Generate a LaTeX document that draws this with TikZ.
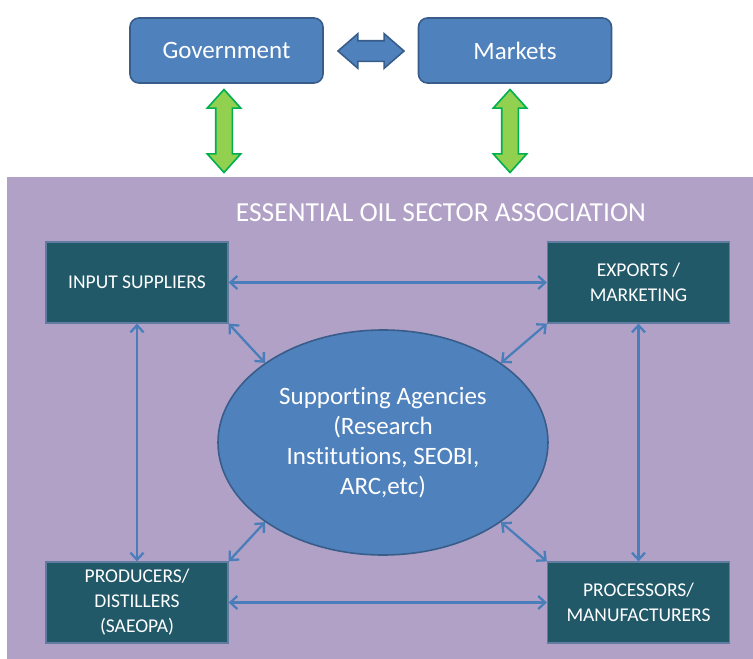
\documentclass[tikz,border=0pt]{standalone}
\usepackage{fontspec}
\setmainfont{Carlito}[Ligatures=NoCommon]
\usepackage{tikz}
\usetikzlibrary{positioning,arrows.meta,shapes.geometric,shapes.arrows}

\definecolor{officeblue}{HTML}{4F81BD}
\definecolor{edgeblue}{HTML}{385D8A}
\definecolor{linkblue}{HTML}{4A7EBB}
\definecolor{darkteal}{HTML}{215968}
\definecolor{lavender}{HTML}{B2A1C7}
\definecolor{lightgreen}{HTML}{92D050}
\definecolor{darkgreen}{HTML}{00B050}

\begin{document}
\begin{tikzpicture}[x=1pt,y=-1pt,
  topbox/.style={draw=edgeblue,line width=1.6pt,fill=officeblue,rounded corners=9pt,
    minimum width=193pt,minimum height=65pt,text=white,font=\fontsize{25}{30}\selectfont},
  unitbox/.style={draw=edgeblue!80,line width=1.2pt,fill=darkteal,minimum width=182pt,
    minimum height=81pt,text=white,align=center,font=\fontsize{19.5}{25}\selectfont},
  link/.style={linkblue,line width=2.3pt,{Straight Barb[length=7pt,width=13pt]}-{Straight Barb[length=7pt,width=13pt]}},
  greenarrow/.style={double arrow,shape border rotate=90,draw=darkgreen,line width=1.6pt,
    fill=lightgreen,minimum height=83pt,inner xsep=7.5pt,inner ysep=0pt,
    double arrow head extend=8.5pt,double arrow tip angle=84}]
\useasboundingbox (0,0) rectangle (753,659);
\fill[lavender] (7,177) rectangle (753,659);

\node[topbox] (gov) at (226.5,50.5) {Government};
\node[topbox] (mkt) at (515,50.5) {Markets};
\node[double arrow,draw=edgeblue,line width=1.6pt,fill=officeblue,minimum height=66pt,
  inner xsep=0pt,inner ysep=9.5pt,double arrow head extend=7pt,double arrow tip angle=82]
  (govmkt) at (371,51) {};
\node[greenarrow] (govlink) at (224,131) {};
\node[greenarrow] (mktlink) at (510,131) {};

\node[text=white,font=\fontsize{27.5}{32}\selectfont] (title) at (441,213)
  {ESSENTIAL OIL SECTOR ASSOCIATION};

\node[unitbox] (inp) at (137,282.5) {INPUT SUPPLIERS};
\node[unitbox] (exp) at (638.5,282.5) {EXPORTS /\\MARKETING};
\node[unitbox] (prod) at (137,602.5) {PRODUCERS/\\DISTILLERS\\(SAEOPA)};
\node[unitbox] (proc) at (638.5,602.5) {PROCESSORS/\\MANUFACTURERS};

\node[ellipse,draw=edgeblue,line width=1.6pt,fill=officeblue,minimum width=330pt,
  minimum height=225pt,inner sep=0pt,text=white,align=center,
  font=\fontsize{25}{30}\selectfont] (agency) at (383,442.5)
  {Supporting Agencies\\(Research\\Institutions, SEOBI,\\ARC,etc)};

\draw[link] (inp) -- (exp);
\draw[link] (prod) -- (proc);
\draw[link] (inp) -- (prod);
\draw[link] (exp) -- (proc);
\draw[link] (inp.south east) -- (agency.146);
\draw[link] (exp.south west) -- (agency.34);
\draw[link] (prod.north east) -- (agency.214);
\draw[link] (proc.north west) -- (agency.326);
\end{tikzpicture}
\end{document}
